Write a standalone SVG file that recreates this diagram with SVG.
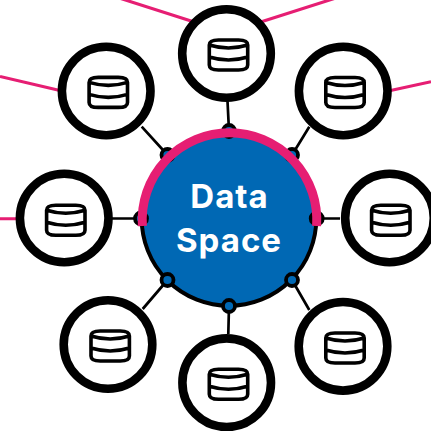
<svg xmlns="http://www.w3.org/2000/svg" width="431" height="431" viewBox="0 0 431 431">
<style>
.n{fill:#fff;stroke:#000;stroke-width:8.600}
.c{stroke:#000;stroke-width:2.700;fill:none}
.p{stroke:#e61e73;stroke-width:3.100;fill:none}
.d{fill:#0068b4;stroke:#000;stroke-width:4}
.i{fill:none;stroke:#000;stroke-width:3.600;stroke-linejoin:round}
.t{font-family:Inter,"Liberation Sans",sans-serif;font-weight:700;font-size:33px;fill:#fff;text-anchor:middle;letter-spacing:1px}
</style>
<defs>
<g id="db"><path class="i" d="M-19.200 -10Q-19.200 -15 -10 -15H10Q19.200 -15 19.200 -10V10Q19.200 15 10 15H-10Q-19.200 15 -19.200 10ZM-19.200 -10Q0 -4 19.200 -10M-19.200 2Q0 8 19.200 2"/></g>
</defs>
<g id="connectors">
<path class="c" d="M227.500 101L229 131M141.700 126.700L167.500 155M309.300 126.700L292 155M112 218.500L141 218.500M340 218.500L316.700 218.500M142.700 309L167.500 280M309.300 310L292 280M228.300 334L229 306"/>
<path class="p" d="M116 -3L195 22.200M339 -3L258.300 22.700M0 76.500L62 91M431 81.700L388.300 91M0 218.700L19.500 218.700"/>
</g>
<g id="node-top"><circle class="n" cx="226.500" cy="53.500" r="44.300"/><use href="#db" x="228.500" y="55"/></g>
<g id="node-top-left"><circle class="n" cx="106.200" cy="91" r="44.300"/><use href="#db" x="108.300" y="92.400"/></g>
<g id="node-top-right"><circle class="n" cx="343.200" cy="91" r="44.300"/><use href="#db" x="345" y="92.500"/></g>
<g id="node-left"><circle class="n" cx="64.200" cy="218" r="44.300"/><use href="#db" x="65.800" y="220.300"/></g>
<g id="node-right"><circle class="n" cx="389.500" cy="218" r="44.300"/><use href="#db" x="390.800" y="220.300"/></g>
<g id="node-bottom-left"><circle class="n" cx="108" cy="344.500" r="44.300"/><use href="#db" x="110.200" y="346"/></g>
<g id="node-bottom-right"><circle class="n" cx="343" cy="346.300" r="44.300"/><use href="#db" x="345" y="348"/></g>
<g id="node-bottom"><circle class="n" cx="226.700" cy="382.700" r="44.300"/><use href="#db" x="228.500" y="384.300"/></g>
<g id="node-data-space">
<circle class="d" cx="229" cy="218.500" r="87.300"/>
<g fill="#0068b4" stroke="#000" stroke-width="3.800">
<circle cx="229" cy="131" r="6"/><circle cx="167.500" cy="155" r="6"/><circle cx="292" cy="155" r="6"/><circle cx="141" cy="218.500" r="6"/><circle cx="316.700" cy="218.500" r="6"/><circle cx="167.500" cy="280" r="6"/><circle cx="292" cy="280" r="6"/><circle cx="229" cy="306" r="6"/>
</g>
<path d="M142.400 226A87.300 87.300 0 1 1 316.600 226" fill="none" stroke="#e61e73" stroke-width="9"/>
<text class="t" x="229.500" y="208.300">Data</text>
<text class="t" x="229" y="252">Space</text>
</g>
</svg>
